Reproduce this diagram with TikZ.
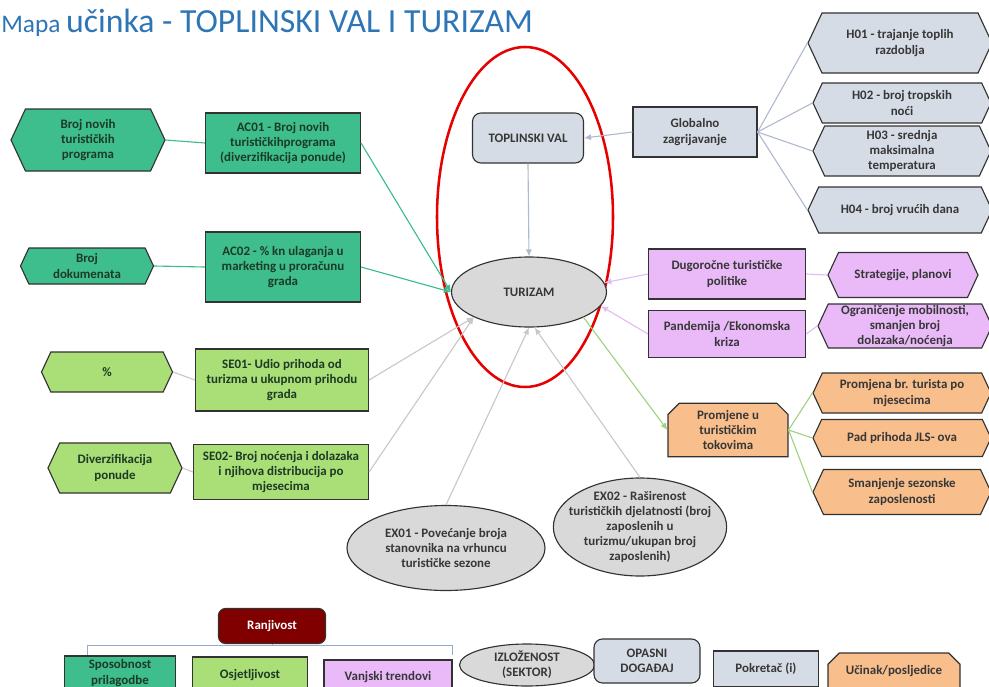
\documentclass[tikz,border=0pt]{standalone}
\usepackage{fontspec}
\setmainfont{Carlito}
\usetikzlibrary{shapes.geometric, shapes.symbols, shapes.misc, positioning, arrows.meta}
\definecolor{TitleBlue}{RGB}{46,117,182}
\definecolor{BoxLine}{RGB}{50,50,50}
\definecolor{TxtDark}{RGB}{55,55,55}
\definecolor{TxtGreen}{RGB}{28,58,38}
\definecolor{DkGreen}{RGB}{62,190,140}
\definecolor{LtGreen}{RGB}{170,222,118}
\definecolor{Lilac}{RGB}{233,185,248}
\definecolor{Peach}{RGB}{248,190,140}
\definecolor{GrayBlue}{RGB}{214,220,229}
\definecolor{OvalGray}{RGB}{217,217,217}
\definecolor{DarkRed}{RGB}{128,0,0}
\definecolor{FocusRed}{RGB}{230,0,0}
\definecolor{LnGreen}{RGB}{60,188,140}
\definecolor{LnGray}{RGB}{200,200,200}
\definecolor{LnBlue}{RGB}{176,186,206}
\definecolor{LnLilac}{RGB}{226,188,245}
\definecolor{LnLime}{RGB}{160,210,128}
\definecolor{BraceBlue}{RGB}{150,172,205}
\newcommand\mapfont{\fontsize{9.2}{10.8}\selectfont\bfseries}

\begin{document}
\begin{tikzpicture}[x=0.025cm, y=-0.025cm,
    sz/.style 2 args={minimum width=#1*0.025cm, minimum height=#2*0.025cm},
    box/.style={rectangle, draw=BoxLine, line width=0.8pt, font=\mapfont,
                align=center, inner sep=1pt, text=TxtDark},
    hexa/.style={signal, signal to=west and east, signal pointer angle=130,
                 draw=BoxLine, line width=0.8pt, font=\mapfont,
                 align=center, inner sep=1pt, text=TxtDark},
    oval/.style={ellipse, draw=BoxLine, line width=0.8pt, fill=OvalGray,
                 font=\mapfont, align=center, inner sep=0pt, text=TxtDark},
    snip/.style={chamfered rectangle, chamfered rectangle corners={north east, north west},
                 chamfered rectangle xsep=4pt, chamfered rectangle ysep=4pt,
                 draw=BoxLine, line width=0.8pt, fill=Peach, font=\mapfont,
                 align=center, inner sep=1pt, text=TxtDark},
    link/.style={line width=0.8pt},
    arr/.style={line width=0.8pt, -{Latex[length=5pt, width=4.5pt]}}
  ]
  \useasboundingbox (0,0) rectangle (989,686);

  % Title
  \node[anchor=base west, inner sep=0, text=TitleBlue] (title) at (1,32)
        {\fontsize{18}{22}\selectfont Mapa\ \fontsize{24}{28}\selectfont učinka - TOPLINSKI VAL I TURIZAM};

  % Centre: hazard and sector
  \node[ellipse, draw=FocusRed, line width=1.8pt, sz={176}{340}] (focus) at (525,217) {};
  \node[box, rounded corners=6pt, fill=GrayBlue, sz={111}{50}] (wave) at (528,138) {TOPLINSKI VAL};
  \node[oval, sz={155}{70}] (tur) at (529,292) {TURIZAM};

  % Adaptive capacity
  \node[hexa, fill=DkGreen, text=TxtGreen, sz={154}{62}] (proghex) at (88,140)
        {Broj novih\\turističkih\\programa};
  \node[box, fill=DkGreen, text=TxtGreen, sz={155}{60}] (ac01) at (283,143)
        {AC01 - Broj novih\\turističkihprograma\\(diverzifikacija ponude)};
  \node[hexa, fill=DkGreen, text=TxtGreen, sz={133}{36}] (dochex) at (87,266)
        {Broj\\dokumenata};
  \node[box, fill=DkGreen, text=TxtGreen, sz={155}{70}] (ac02) at (283,267)
        {AC02 - \% kn ulaganja u\\marketing u proračunu\\grada};

  % Sensitivity
  \node[hexa, fill=LtGreen, text=TxtGreen, sz={131}{40}] (pcthex) at (107,372) {\%};
  \node[box, fill=LtGreen, text=TxtGreen, sz={173}{62}] (se01) at (282,380)
        {SE01- Udio prihoda od\\turizma u ukupnom prihodu\\grada};
  \node[hexa, fill=LtGreen, text=TxtGreen, sz={134}{50}] (divhex) at (115,468)
        {Diverzifikacija\\ponude};
  \node[box, fill=LtGreen, text=TxtGreen, sz={175}{55}] (se02) at (281,472)
        {SE02- Broj noćenja i dolazaka\\i njihova distribucija po\\mjesecima};

  % Exposure
  \node[oval, sz={198}{85}] (ex01) at (446,548)
        {EX01 - Povećanje broja\\stanovnika na vrhuncu\\turističke sezone};
  \node[oval, inner xsep=-7pt, inner ysep=-3pt, sz={168}{98}] (ex02) at (640,527)
        {EX02 - Raširenost\\turističkih djelatnosti (broj\\zaposlenih u\\turizmu/ukupan broj\\zaposlenih)};

  % Drivers
  \node[box, fill=GrayBlue, sz={124}{50}] (glob) at (695,132) {Globalno\\zagrijavanje};
  \node[hexa, fill=GrayBlue, sz={184}{60}] (h01) at (900,43) {H01 - trajanje toplih\\razdoblja};
  \node[hexa, fill=GrayBlue, sz={178}{40}] (h02) at (902,103) {H02 - broj tropskih\\noći};
  \node[hexa, fill=GrayBlue, sz={178}{50}] (h03) at (902,151) {H03 - srednja\\maksimalna\\temperatura};
  \node[hexa, fill=GrayBlue, sz={184}{46}] (h04) at (900,210) {H04 - broj vrućih dana};

  % External trends
  \node[box, fill=Lilac, sz={157}{50}] (dugo) at (727,274) {Dugoročne turističke\\politike};
  \node[hexa, fill=Lilac, sz={150}{45}] (strathex) at (903,275) {Strategije, planovi};
  \node[box, fill=Lilac, sz={157}{47}] (pand) at (727,334) {Pandemija /Ekonomska\\kriza};
  \node[hexa, fill=Lilac, inner ysep=0pt, sz={174}{44}] (ogrhex) at (905,326)
        {Ograničenje mobilnosti,\\smanjen broj\\dolazaka/noćenja};

  % Impacts
  \node[snip, sz={120}{50}] (prom) at (728,430) {Promjene u\\turističkim\\tokovima};
  \node[hexa, fill=Peach, sz={178}{40}] (promhex) at (902,393) {Promjena br. turista po\\mjesecima};
  \node[hexa, fill=Peach, sz={178}{37}] (padhex) at (902,438) {Pad prihoda JLS- ova};
  \node[hexa, fill=Peach, sz={178}{45}] (smahex) at (902,492) {Smanjenje sezonske\\zaposlenosti};

  % Legend
  \node[box, rounded corners=5pt, fill=DarkRed, text=white, sz={107}{35}] (ranj) at (272,626) {Ranjivost};
  \node[box, fill=DkGreen, text=TxtGreen, sz={111}{34}] (spos) at (120,673) {Sposobnost\\prilagodbe};
  \node[box, fill=LtGreen, text=TxtGreen, sz={115}{36}] (osje) at (250,675) {Osjetljivost};
  \node[box, fill=Lilac, sz={128}{34}] (vanj) at (388,677) {Vanjski trendovi};
  \node[oval, sz={135}{42}] (izlo) at (527,665) {IZLOŽENOST\\(SEKTOR)};
  \node[box, rounded corners=6pt, fill=GrayBlue, sz={106}{44}] (opas) at (647,661) {OPASNI\\DOGAĐAJ};
  \node[box, fill=GrayBlue, sz={105}{36}] (pokr) at (766,669) {Pokretač (i)};
  \node[snip, sz={132}{36}] (ucin) at (894,671) {Učinak/posljedice};

  \coordinate (bl) at (87,655);
  \coordinate (br) at (452,655);
  \draw[BraceBlue, line width=0.6pt] (bl) -- ++(0,-10) -| (br);
  \draw[BraceBlue, line width=0.6pt] (ranj.south) -- ++(0,2);

  % Hexagons to indicators
  \draw[link, LnGreen] (proghex.east) -- (ac01.west);
  \draw[link, LnGreen] (dochex.east) -- (ac02.west);
  \draw[link, LnGray] (pcthex.east) -- (se01.west);
  \draw[link, LnGray] (divhex.east) -- (se02.west);
  \foreach \h in {h01,h02,h03,h04}
    \draw[link, LnBlue] (glob.east) -- (\h.west);
  \draw[link, LnLilac] (strathex.west) -- (dugo.east);
  \draw[link, LnLilac] (ogrhex.west) -- (pand.east);
  \foreach \h in {promhex,padhex,smahex}
    \draw[link, LnLime] (prom.east) -- (\h.west);

  % Arrows into the sector
  \draw[arr, LnBlue] (glob.west) -- (wave.east);
  \draw[arr, LnBlue] (wave.south) -- (tur.north);
  \draw[arr, LnGreen] (ac01.east) -- (tur.west);
  \draw[arr, LnGreen] (ac02.east) -- (tur.west);
  \draw[arr, LnGray] (se01.east) -- (tur.south west);
  \draw[arr, LnGray] (se02.east) -- (tur.south west);
  \draw[arr, LnGray] (ex01.north) -- (tur.south);
  \draw[arr, LnGray] (ex02.north) -- ([xshift=4]tur.south);
  \draw[arr, LnLilac] (dugo.west) -- (tur.7);
  \draw[arr, LnLilac] (pand.west) -- (tur.-11);
  \draw[arr, LnLime] (tur.-25) -- (prom.west);
\end{tikzpicture}
\end{document}
